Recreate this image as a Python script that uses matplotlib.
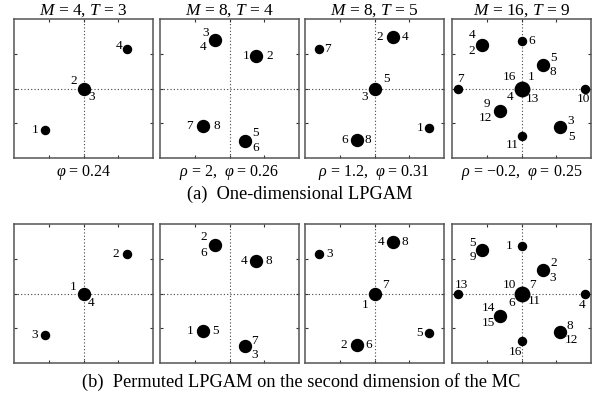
import matplotlib
matplotlib.use("Agg")
import matplotlib.pyplot as plt

plt.rcParams["font.family"] = "Liberation Serif"
plt.rcParams["mathtext.fontset"] = "custom"
plt.rcParams["mathtext.rm"] = "Liberation Serif"
plt.rcParams["mathtext.it"] = "Liberation Serif:italic"

# constellation points (x, y) per panel, shared by both rows
pts_m4 = [(-1.11, -1.2), (0.0, 0.0), (1.24, 1.15)]
pts_m8a = [(-0.43, 1.39), (0.77, 0.94), (-0.76, -1.07), (0.44, -1.51)]
pts_m8b = [(0.53, 1.47), (-1.59, 1.13), (0.0, 0.0), (1.57, -1.13), (-0.51, -1.47)]
pts_m16 = [(-1.14, 1.26), (0.0, 1.38), (0.62, 0.69), (0.0, 0.0), (-1.82, 0.0),
           (1.83, 0.0), (-0.63, -0.65), (1.11, -1.11), (0.0, -1.38)]

# symbol labels attached to each point, (a) one-dimensional and (b) permuted
labels_a = [
    [["1"], ["2", "3"], ["4"]],
    [["3", "4"], ["1", "2"], ["7", "8"], ["5", "6"]],
    [["2", "4"], ["7"], ["5", "3"], ["1"], ["6", "8"]],
    [["4", "2"], ["6"], ["5", "8"], ["16", "1", "4", "13"], ["7"], ["10"],
     ["9", "12"], ["3", "5"], ["11"]],
]
labels_b = [
    [["3"], ["1", "4"], ["2"]],
    [["2", "6"], ["4", "8"], ["1", "5"], ["7", "3"]],
    [["4", "8"], ["3"], ["7", "1"], ["5"], ["2", "6"]],
    [["5", "9"], ["1"], ["2", "3"], ["10", "7", "6", "11"], ["13"], ["4"],
     ["14", "15"], ["8", "12"], ["16"]],
]

titles = [r"$M$ = 4, $T$ = 3", r"$M$ = 8, $T$ = 4", r"$M$ = 8, $T$ = 5",
          r"$M$ = 16, $T$ = 9"]
params = [r"$\varphi$ = 0.24", r"$\rho$ = 2,  $\varphi$ = 0.26",
          r"$\rho$ = 1.2,  $\varphi$ = 0.31", r"$\rho$ = $-$0.2,  $\varphi$ = 0.25"]
captions = ["(a)  One-dimensional LPGAM",
            "(b)  Permuted LPGAM on the second dimension of the MC"]

all_pts = [pts_m4, pts_m8a, pts_m8b, pts_m16]

# label offsets in pixels, per panel/point/label
offs_a = [
    [[(-10, 0)], [(-10, 7), (8, -8)], [(-8, 3)]],
    [[(-9, 7), (-11, -7)], [(-10, 0), (13, 0)], [(-14, 0), (14, 0)], [(11, 8), (11, -7)]],
    [[(-13, 0), (12, 0)], [(8, 0)], [(12, 9), (-10, -9)], [(-9, 0)], [(-12, 0), (11, 0)]],
    [[(-10, 10), (-10, -6)], [(10, 0)], [(10, 7), (10, -7)],
     [(-12, 12), (10, 12), (-11, -8), (11, -11)], [(2, 10)], [(-2, -11)],
     [(-13, 7), (-14, -7)], [(11, 6), (11, -10)], [(-9, -9)]],
]
offs_b = [
    [[(-10, 0)], [(-10, 6), (8, -10)], [(-11, 0)]],
    [[(-11, 8), (-11, -8)], [(-12, 0), (13, 0)], [(-13, 0), (12, 0)], [(10, 5), (10, -9)]],
    [[(-12, 0), (12, 0)], [(10, 0)], [(11, 8), (-9, -11)], [(-10, 0)], [(-13, 0), (12, 0)]],
    [[(-9, 7), (-9, -7)], [(-12, 0)], [(11, 7), (10, -8)],
     [(-12, 8), (11, 8), (-10, -10), (13, -8)], [(3, 9)], [(-3, -11)],
     [(-11, 8), (-11, -7)], [(10, 6), (11, -8)], [(-6, -11)]],
]

fig = plt.figure(figsize=(6, 4), dpi=100)
lefts = [14, 160, 305, 452]
tops = [19, 224]
size_px = 139
msizes = {1: 5.8, 2: 8.6, 4: 10.4}

for row, (labels, offs) in enumerate([(labels_a, offs_a), (labels_b, offs_b)]):
    for col in range(4):
        ax = fig.add_axes([lefts[col] / 600, 1 - (tops[row] + size_px) / 400,
                           size_px / 600, size_px / 400])
        ax.set_xlim(-2, 2)
        ax.set_ylim(-2, 2)
        ax.set_xticks([-1, 0, 1])
        ax.set_yticks([-1, 0, 1])
        ax.tick_params(direction="in", length=2, width=0.8, top=True, right=True,
                       labelbottom=False, labelleft=False, colors="#333333")
        for s in ax.spines.values():
            s.set_color("#555555")
            s.set_linewidth(1.1)
        ax.axhline(0, color="#444444", ls=(0, (1, 2)), lw=0.8, zorder=1)
        ax.axvline(0, color="#444444", ls=(0, (1, 2)), lw=0.8, zorder=1)
        for (x, y), labs, off in zip(all_pts[col], labels[col], offs[col]):
            ax.plot(x, y, "o", color="black", ms=msizes[len(labs)], zorder=3,
                    clip_on=False)
            for lab, (dx, dy) in zip(labs, off):
                ax.annotate(lab, (x, y), xytext=(dx, dy), textcoords="offset pixels",
                            ha="center", va="center", fontsize=9.5,
                            annotation_clip=False)
        if row == 0:
            ax.text(0.5, 1.0, titles[col], transform=ax.transAxes, ha="center",
                    va="bottom", fontsize=12.5)
            ax.text(0.5, -0.035, params[col], transform=ax.transAxes, ha="center",
                    va="top", fontsize=11.5)

fig.text(0.5, 1 - 194 / 400, captions[0], ha="center", va="center", fontsize=13.2)
fig.text(0.502, 1 - 382 / 400, captions[1], ha="center", va="center", fontsize=13.2)

fig.savefig("out.png", dpi=100)
